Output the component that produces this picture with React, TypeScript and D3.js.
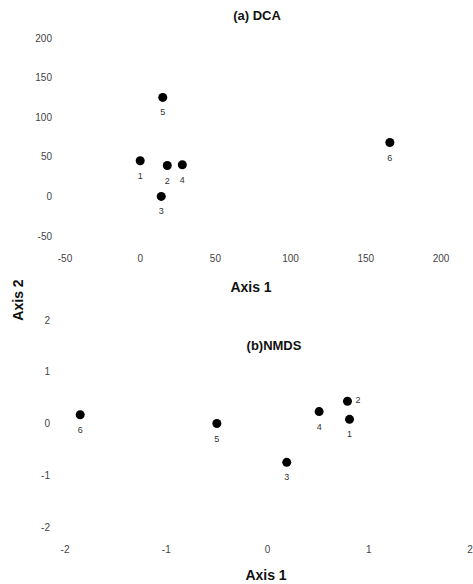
import React from 'react';
import * as d3 from 'd3';

// site ids
const sites = ['1', '2', '3', '4', '5', '6'];

// (a) DCA scores
const dcaAxis1 = [0, 18, 14, 28, 15, 166];
const dcaAxis2 = [45, 39, 0, 40, 125, 68];
const dcaTicks = [-50, 0, 50, 100, 150, 200];

// (b) NMDS scores
const nmdsAxis1 = [0.81, 0.79, 0.19, 0.51, -0.5, -1.85];
const nmdsAxis2 = [0.08, 0.43, -0.75, 0.23, 0.0, 0.17];
const nmdsTicks = [-2, -1, 0, 1, 2];
// where the site number sits relative to its dot
const nmdsLabelSide = ['below', 'right', 'below', 'below', 'below', 'below'];

const W = 473;
const H = 584;
const font = '"Liberation Sans", Arial, Helvetica, sans-serif';

const fmt = (v: number) => (v < 0 ? '-' + Math.abs(v) : String(v));

type PanelProps = {
    title: string;
    titleX: number;
    titleY: number;
    xs: number[];
    ys: number[];
    ticks: number[];
    xScale: d3.ScaleLinear<number, number>;
    yScale: d3.ScaleLinear<number, number>;
    xTickY: number;
    yTickX: number;
    sides?: string[];
};

const Panel = ({ title, titleX, titleY, xs, ys, ticks, xScale, yScale, xTickY, yTickX, sides }: PanelProps) => {
    return (
        <g>
            <text x={titleX} y={titleY} textAnchor="middle" dominantBaseline="central"
                fontFamily={font} fontWeight="bold" fontSize={13} fill="#111">{title}</text>

            {ticks.map(t => (
                <text key={'y' + t} x={yTickX} y={yScale(t)} textAnchor="end" dominantBaseline="central"
                    fontFamily={font} fontSize={10} fill="#444">{fmt(t)}</text>
            ))}
            {ticks.map(t => (
                <text key={'x' + t} x={xScale(t)} y={xTickY} textAnchor="middle" dominantBaseline="central"
                    fontFamily={font} fontSize={10} fill="#444">{fmt(t)}</text>
            ))}

            {sites.map((s, i) => {
                const cx = xScale(xs[i]);
                const cy = yScale(ys[i]);
                const side = sides ? sides[i] : 'below';
                return (
                    <g key={s}>
                        <circle cx={cx} cy={cy} r={4.5} fill="#000" />
                        {side === 'right'
                            ? <text x={cx + 8} y={cy - 1} dominantBaseline="central" fontFamily={font} fontSize={9} fill="#333">{s}</text>
                            : <text x={cx} y={cy + 15} textAnchor="middle" dominantBaseline="central" fontFamily={font} fontSize={9} fill="#333">{s}</text>}
                    </g>
                );
            })}
        </g>
    );
};

const App = () => {
    const xA = d3.scaleLinear().domain([-50, 200]).range([65, 441]);
    const yA = d3.scaleLinear().domain([-50, 200]).range([236, 38]);
    const xB = d3.scaleLinear().domain([-2, 2]).range([65, 470]);
    const yB = d3.scaleLinear().domain([-2, 2]).range([527, 320]);

    return (
        <svg width={W} height={H} style={{ position: 'absolute', left: 0, top: 0, background: '#fff' }}>
            <Panel title="(a) DCA" titleX={257} titleY={15} xs={dcaAxis1} ys={dcaAxis2} ticks={dcaTicks}
                xScale={xA} yScale={yA} xTickY={258} yTickX={52} />
            <text x={251} y={287} textAnchor="middle" dominantBaseline="central"
                fontFamily={font} fontWeight="bold" fontSize={14} fill="#111">Axis 1</text>

            <text transform="translate(18,300) rotate(-90)" textAnchor="middle" dominantBaseline="central"
                fontFamily={font} fontWeight="bold" fontSize={14} fill="#111">Axis 2</text>

            <Panel title="(b)NMDS" titleX={274} titleY={345} xs={nmdsAxis1} ys={nmdsAxis2} ticks={nmdsTicks}
                xScale={xB} yScale={yB} xTickY={549} yTickX={50} sides={nmdsLabelSide} />
            <text x={266} y={575} textAnchor="middle" dominantBaseline="central"
                fontFamily={font} fontWeight="bold" fontSize={14} fill="#111">Axis 1</text>
        </svg>
    );
};

export default App;
